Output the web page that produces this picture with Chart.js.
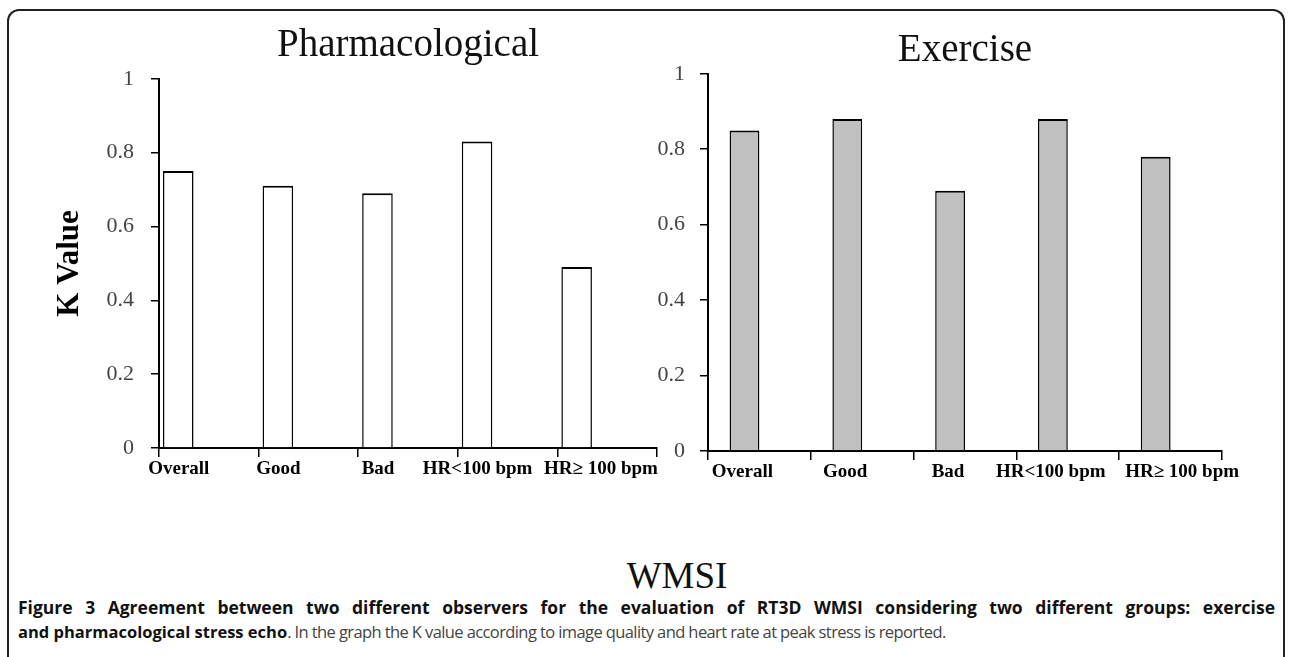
<!DOCTYPE html>
<html>
<head>
<meta charset="utf-8">
<script src="https://cdn.jsdelivr.net/npm/chart.js@4.4.1/dist/chart.umd.min.js"></script>
<style>
  body { margin: 0; background: #fff; width: 1289px; height: 657px; overflow: hidden; position: relative; }
  .frame { position: absolute; left: 7px; top: 9px; width: 1274px; height: 700px;
           border: 2px solid #222; border-bottom: none; border-radius: 12px 12px 0 0; }
  canvas { position: absolute; top: 0; }
  #pharmChart { left: 0; }
  #exerChart { left: 640px; }
  .wmsi { position: absolute; left: 577px; width: 200px; top: 554px; text-align: center;
          font-family: 'Liberation Serif', 'Times New Roman', serif; font-size: 37px; color: #111; }
  .caption { position: absolute; left: 18px; width: 1257px; top: 595px;
             font-family: 'Open Sans', sans-serif; font-size: 16.5px; line-height: 24px; color: #111; }
  .caption .line1 { white-space: nowrap; font-weight: bold; display: inline-block; font-size: 17.5px; }
  .caption b { font-weight: bold; }
  .caption .rest { color: #444; letter-spacing: -0.6px; }
</style>
</head>
<body>
<div class="frame"></div>
<canvas id="pharmChart" width="700" height="488"></canvas>
<canvas id="exerChart" width="649" height="491"></canvas>
<div class="wmsi">WMSI</div>
<div class="caption">
  <span class="line1" id="capLine1">Figure 3 Agreement between two different observers for the evaluation of RT3D WMSI considering two different groups: exercise</span>
  <div><b>and pharmacological stress echo</b><span class="rest">. In the graph the K value according to image quality and heart rate at peak stress is reported.</span></div>
</div>

<script>
// ==================== Data ====================
const categories = ['Overall', 'Good', 'Bad', 'HR<100 bpm', 'HR\u2265 100 bpm'];
const pharmacologicalK = [0.75, 0.71, 0.69, 0.83, 0.49];
const exerciseK = [0.85, 0.88, 0.69, 0.88, 0.78];
// empty series: the original clustered layout keeps the bars off-centre
const emptySeries = [null, null, null, null, null];
const kMin = 0, kMax = 1, kStep = 0.2;

const serif = "'Liberation Serif', 'Times New Roman', serif";

// first caption line is justified to the full width
const line1 = document.getElementById('capLine1');
let capSize = 17.5;
while (line1.getBoundingClientRect().width > 1257 && capSize > 14) {
  capSize -= 0.25;
  line1.style.fontSize = capSize + 'px';
}
const nSpaces = line1.textContent.split(' ').length - 1;
line1.style.wordSpacing = ((1257 - line1.getBoundingClientRect().width) / nSpaces) + 'px';

function barSet(values, fill) {
  return {
    data: values,
    backgroundColor: fill,
    borderColor: '#000',
    borderWidth: { top: 2, left: 1.5, right: 1.5, bottom: 0 },
    borderSkipped: 'bottom'
  };
}

function makeChart(id, cfg) {
  return new Chart(document.getElementById(id).getContext('2d'), {
    type: 'bar',
    data: { labels: categories, datasets: cfg.datasets },
    options: {
      responsive: false,
      animation: false,
      categoryPercentage: cfg.catPct,
      barPercentage: 1,
      layout: { padding: { left: 0, right: cfg.padRight, top: 0, bottom: 0 } },
      plugins: {
        legend: { display: false },
        tooltip: { enabled: false },
        title: {
          display: true,
          text: cfg.title,
          fullSize: false,
          color: '#111',
          font: { family: serif, size: 39, weight: 'normal' },
          padding: { top: cfg.titleTop, bottom: cfg.titleBottom }
        }
      },
      scales: {
        x: {
          afterFit: s => { s.height = 40; },
          border: { color: '#000', width: 2 },
          grid: { drawOnChartArea: false, tickLength: 9, color: '#000', lineWidth: 1.5 },
          ticks: {
            color: '#000', padding: 1, autoSkip: false, maxRotation: 0,
            labelOffset: cfg.labelOffset,
            // the last label sits further right in the original, as if indented
            callback: (v, i) => (i === categories.length - 1 ? '\u2002'.repeat(cfg.lastIndent) : '') + categories[i],
            font: { family: serif, size: 19, weight: 'bold' }
          }
        },
        y: {
          min: kMin, max: kMax,
          afterFit: s => { s.width = cfg.axisWidth; },
          border: { color: '#000', width: 2 },
          grid: { drawOnChartArea: false, tickLength: 8, color: '#000', lineWidth: 1.5 },
          ticks: { stepSize: kStep, color: '#444', padding: cfg.tickPad,
                   callback: v => String(Math.round(v * 10) / 10),
                   font: { family: serif, size: 22 } },
          title: cfg.yTitle
        }
      }
    }
  });
}

// ==================== Pharmacological ====================
makeChart('pharmChart', {
  title: 'Pharmacological',
  datasets: [barSet(pharmacologicalK, '#fff'), barSet(emptySeries, '#fff'), barSet(emptySeries, '#fff')],
  catPct: 0.92,
  padRight: 43,
  axisWidth: 159,
  tickPad: 17,
  titleTop: 22,
  titleBottom: 10,
  labelOffset: -30,
  lastIndent: 5,
  yTitle: {
    display: true,
    text: 'K Value',
    color: '#000',
    font: { family: serif, size: 31, weight: 'bold' },
    padding: { top: 51, bottom: 0 }
  }
});

// ==================== Exercise ====================
makeChart('exerChart', {
  title: 'Exercise',
  datasets: [barSet(exerciseK, '#c0c0c0'), barSet(emptySeries, '#c0c0c0')],
  catPct: 0.58,
  padRight: 67,
  axisWidth: 68,
  tickPad: 15,
  titleTop: 27,
  titleBottom: 0,
  labelOffset: -17,
  lastIndent: 6,
  yTitle: { display: false }
});
</script>
</body>
</html>
